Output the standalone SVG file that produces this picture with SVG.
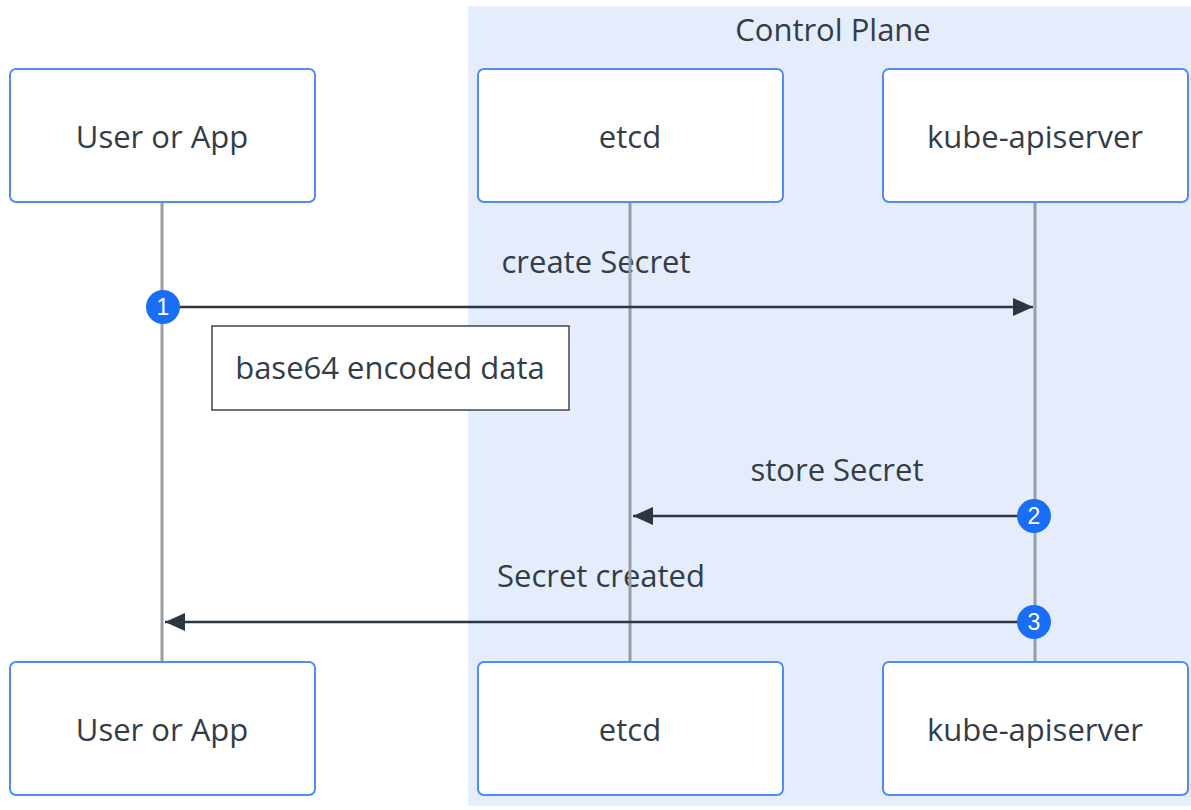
<svg xmlns="http://www.w3.org/2000/svg" width="1191" height="810" viewBox="0 0 1191 810">
  <style>
    .actor { fill: #ffffff; stroke: #4f8cf7; stroke-width: 2; }
    .label { font-family: "Open Sans", "Liberation Sans", sans-serif; font-size: 31px; fill: #333d47; text-anchor: middle; dominant-baseline: central; }
    .lifeline { stroke: #9a9ea3; stroke-width: 3; }
    .msg { stroke: #2b3640; stroke-width: 2.5; fill: none; }
    .note { fill: #ffffff; stroke: #3d464f; stroke-width: 1.5; }
    .badge { fill: #1a6ef5; }
    .badge-num { font-family: "Liberation Sans", Arial, sans-serif; font-size: 23px; fill: #ffffff; text-anchor: middle; dominant-baseline: central; }
  </style>
  <defs>
    <marker id="arrowhead" viewBox="0 0 20 20" refX="20" refY="10" markerWidth="20" markerHeight="20" markerUnits="userSpaceOnUse" orient="auto">
      <path d="M0,1 L20,10 L0,19 z" fill="#2b3640"/>
    </marker>
  </defs>

  <rect width="1191" height="810" fill="#ffffff"/>

  <!-- Control Plane grouping -->
  <g id="control-plane">
    <rect x="468" y="6" width="723" height="800" fill="#e5ecfc"/>
    <text class="label" x="833" y="29">Control Plane</text>
  </g>

  <!-- message labels -->
  <g id="message-labels">
    <text class="label" x="596" y="261">create Secret</text>
    <text class="label" x="837" y="469">store Secret</text>
    <text class="label" x="601" y="575">Secret created</text>
  </g>

  <!-- lifelines -->
  <g id="lifelines">
    <line class="lifeline" x1="162" y1="202" x2="162" y2="662"/>
    <line class="lifeline" x1="630" y1="202" x2="630" y2="662"/>
    <line class="lifeline" x1="1035" y1="202" x2="1035" y2="662"/>
  </g>

  <!-- actors, top row -->
  <g id="user-top">
    <rect class="actor" x="10" y="69" width="305" height="133" rx="6"/>
    <text class="label" x="162" y="136">User or App</text>
  </g>
  <g id="etcd-top">
    <rect class="actor" x="478" y="69" width="305" height="133" rx="6"/>
    <text class="label" x="630" y="136">etcd</text>
  </g>
  <g id="apiserver-top">
    <rect class="actor" x="883" y="69" width="305" height="133" rx="6"/>
    <text class="label" x="1035" y="136">kube-apiserver</text>
  </g>

  <!-- actors, bottom row -->
  <g id="user-bottom">
    <rect class="actor" x="10" y="662" width="305" height="133" rx="6"/>
    <text class="label" x="162" y="729">User or App</text>
  </g>
  <g id="etcd-bottom">
    <rect class="actor" x="478" y="662" width="305" height="133" rx="6"/>
    <text class="label" x="630" y="729">etcd</text>
  </g>
  <g id="apiserver-bottom">
    <rect class="actor" x="883" y="662" width="305" height="133" rx="6"/>
    <text class="label" x="1035" y="729">kube-apiserver</text>
  </g>

  <!-- note -->
  <g id="note-base64">
    <rect class="note" x="212" y="326" width="357" height="84"/>
    <text class="label" x="390" y="367">base64 encoded data</text>
  </g>

  <!-- messages -->
  <g id="connectors">
    <line class="msg" x1="163" y1="307" x2="1033" y2="307" marker-end="url(#arrowhead)"/>
    <line class="msg" x1="1035" y1="516" x2="633" y2="516" marker-end="url(#arrowhead)"/>
    <line class="msg" x1="1035" y1="622" x2="165" y2="622" marker-end="url(#arrowhead)"/>
  </g>

  <!-- sequence numbers -->
  <g id="seq-1">
    <circle class="badge" cx="163" cy="307" r="17"/>
    <text class="badge-num" x="163" y="307">1</text>
  </g>
  <g id="seq-2">
    <circle class="badge" cx="1034" cy="516" r="17"/>
    <text class="badge-num" x="1034" y="516">2</text>
  </g>
  <g id="seq-3">
    <circle class="badge" cx="1034" cy="622" r="17"/>
    <text class="badge-num" x="1034" y="622">3</text>
  </g>
</svg>
